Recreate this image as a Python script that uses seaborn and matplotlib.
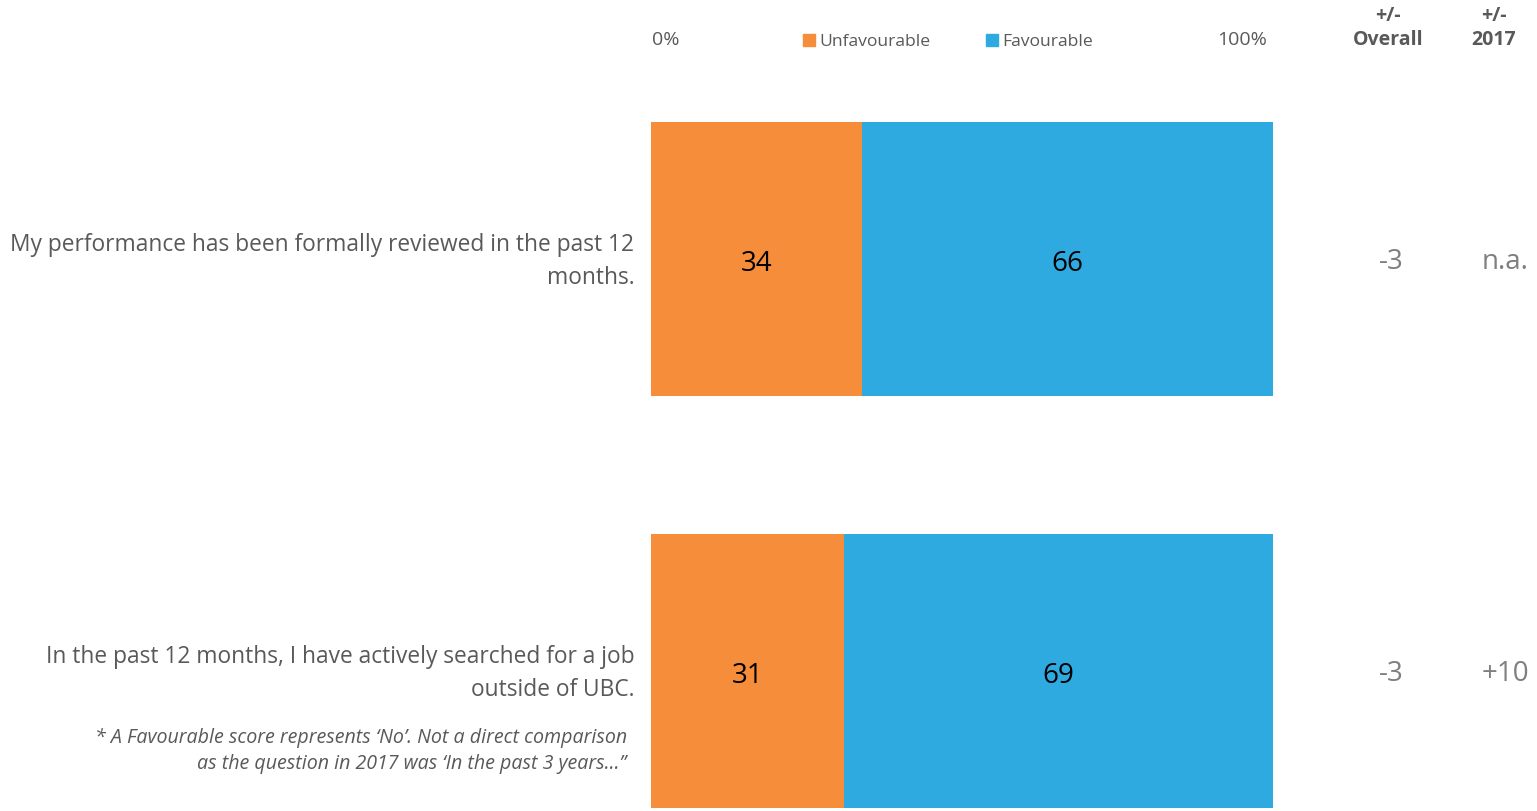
import matplotlib
matplotlib.use("Agg")
import matplotlib.pyplot as plt
import matplotlib.patches as mpatches
import seaborn as sns
import pandas as pd

sns.set_style("white")
plt.rcParams['font.family'] = ['Open Sans', 'DejaVu Sans']

categories = ["My performance has been formally reviewed in the past 12\nmonths.",
              "In the past 12 months, I have actively searched for a job\noutside of UBC."]
unfavourable = [34, 31]
favourable = [66, 69]
vs_overall = ["-3", "-3"]
vs_2017 = ["n.a.", "+10"]
footnote = "* A Favourable score represents \u2018No\u2019. Not a direct comparison\nas the question in 2017 was \u2018In the past 3 years\u2026\u201d"

ORANGE = "#F58D3B"
BLUE = "#2EAAE0"
GRAY = "#7F7F7F"
DARK = "#595959"

df = pd.DataFrame({"cat": categories, "unfav": unfavourable, "fav": favourable})
df["total"] = df["unfav"] + df["fav"]

fig = plt.figure(figsize=(15.37, 8.11), dpi=100)
W, H = 1537, 811
ax = fig.add_axes([651 / W, 3 / H, 622 / W, 686 / H])

sns.barplot(data=df, x="total", y="cat", color=BLUE, width=0.665, ax=ax, orient="h",
            saturation=1, edgecolor="none")
sns.barplot(data=df, x="unfav", y="cat", color=ORANGE, width=0.665, ax=ax, orient="h",
            saturation=1, edgecolor="none")

ax.set_xlim(0, 100)
ax.set_ylim(1.3325, -0.3325)
ax.set_xlabel("")
ax.set_ylabel("")
ax.set_xticks([])
ax.set_yticks([])
for s in ax.spines.values():
    s.set_visible(False)

dy = 0.011
for i, row in df.iterrows():
    ax.text(row["unfav"] / 2, i + dy, f"{row['unfav']}", ha="center", va="center",
            fontsize=20, color="black")
    ax.text(row["unfav"] + row["fav"] / 2, i + dy, f"{row['fav']}", ha="center", va="center",
            fontsize=20, color="black")
    ax.text(-2.7, i + 0.006, row["cat"], ha="right", va="center", fontsize=16.4, color=DARK,
            linespacing=1.45, clip_on=False)
    ax.text(119.0, i + 0.007, vs_overall[i], ha="center", va="center", fontsize=20, color=GRAY,
            clip_on=False)
    ax.text(137.3, i + 0.007, vs_2017[i], ha="center", va="center", fontsize=20, color=GRAY,
            clip_on=False)

ax.text(-3.9, 1.193, footnote, ha="right", va="center", fontsize=14.1, color=DARK,
        style="italic", linespacing=1.4, clip_on=False)

# header
fig.text(652 / W, 1 - 40 / H, "0%", ha="left", va="center", fontsize=14, color=DARK)
fig.text(1267 / W, 1 - 40 / H, "100%", ha="right", va="center", fontsize=14, color=DARK)
fig.text(1388 / W, 1 - 28 / H, "+/-\nOverall", ha="center", va="center", fontsize=14,
         color=DARK, fontweight="bold", linespacing=1.25)
fig.text(1494 / W, 1 - 28 / H, "+/-\n2017", ha="center", va="center", fontsize=14,
         color=DARK, fontweight="bold", linespacing=1.25)

handles = [mpatches.Patch(color=ORANGE, label="Unfavourable"),
           mpatches.Patch(color=BLUE, label="Favourable")]
fig.legend(handles=handles, loc="center left", bbox_to_anchor=(803 / W, 1 - 42 / H),
           ncol=2, frameon=False, fontsize=12.6, handlelength=0.7, handleheight=0.7,
           handletextpad=0.25, columnspacing=3.15, labelcolor=DARK, borderaxespad=0,
           borderpad=0)

fig.savefig("out.png", dpi=100)
